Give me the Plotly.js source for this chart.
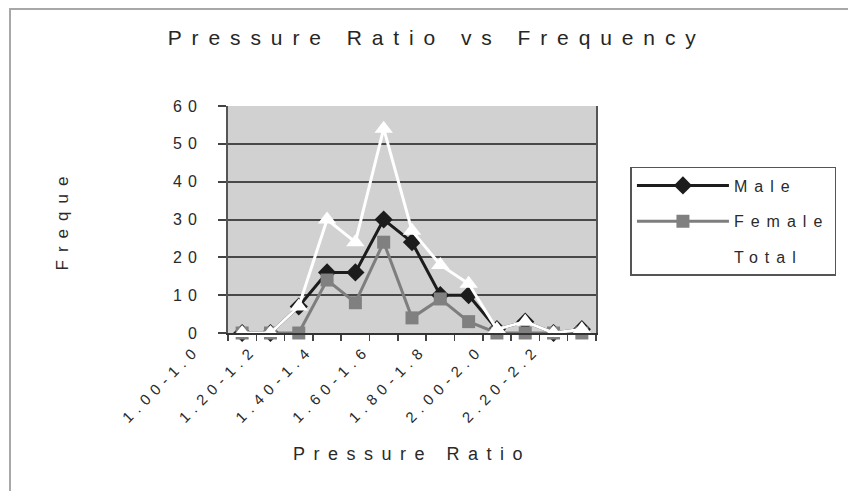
<!DOCTYPE html>
<html><head><meta charset="utf-8">
<script src="https://cdn.plot.ly/plotly-3.0.1.min.js"></script>
<style>
html,body{margin:0;padding:0;background:#fff;}
#wrap{position:relative;width:848px;height:491px;overflow:hidden;}
#chart{width:848px;height:491px;}
#frame{position:absolute;left:9px;top:8px;width:1000px;height:1000px;border-left:2px solid #a8a8a8;border-top:2px solid #a8a8a8;pointer-events:none;}
text.gtitle{letter-spacing:9.9px;}
text.xtitle{letter-spacing:8.5px;}
text.ytitle{letter-spacing:8px;}
text.legendtext{letter-spacing:7px;}
.xtick text{letter-spacing:6px;}
.ytick text{letter-spacing:6px;}
</style></head>
<body>
<div id="wrap"><div id="chart"></div><div id="frame"></div></div>
<script>
var categories = ["1.00-1.09","1.10-1.19","1.20-1.29","1.30-1.39","1.40-1.49","1.50-1.59","1.60-1.69","1.70-1.79","1.80-1.89","1.90-1.99","2.00-2.09","2.10-2.19","2.20-2.29"];
var tickLabels = ["1.00-1.0","","1.20-1.2","","1.40-1.4","","1.60-1.6","","1.80-1.8","","2.00-2.0","","2.20-2.2"];
var male   = [0,0,7,16,16,30,24,10,10,1,3,0,1];
var female = [0,0,0,14,8,24,4,9,3,0,0,0,0];
var total  = [0,0,7,30,24,54,27,18,13,1,3,0,1];

var FONT = "Liberation Sans, Arial, sans-serif";
var traces = [
  {x:categories, y:male, name:"Male", type:"scatter", mode:"lines+markers", cliponaxis:false, legendgroup:"a",
   line:{color:"#1c1c1c", width:3}, marker:{symbol:"diamond", size:14, color:"#1c1c1c"}},
  {x:categories, y:female, name:"Female", type:"scatter", mode:"lines+markers", cliponaxis:false, legendgroup:"b",
   line:{color:"#7e7e7e", width:3}, marker:{symbol:"square", size:13, color:"#808080"}},
  {x:categories, y:total, name:"Total", type:"scatter", mode:"lines+markers", cliponaxis:false, legendgroup:"c",
   line:{color:"#ffffff", width:3}, marker:{symbol:"triangle-up", size:16, color:"#ffffff"}}
];
var layout = {
  width:848, height:491,
  margin:{l:228, r:246, t:106, b:158},
  paper_bgcolor:"#ffffff", plot_bgcolor:"#d1d1d1",
  font:{family:FONT, color:"#2a2a2a"},
  title:{text:"Pressure Ratio vs Frequency", font:{family:FONT, size:21, color:"#262626"},
         x:0.515, xref:"container", xanchor:"center", y:0.923, yref:"container", yanchor:"middle"},
  xaxis:{type:"category", tickvals:categories, ticktext:tickLabels, tickangle:-45, tickson:"boundaries",
         ticks:"outside", ticklen:6, tickcolor:"#444", tickwidth:1.5, showgrid:false, showline:true,
         linecolor:"#333", linewidth:2, range:[-0.5,12.5], tickfont:{family:FONT, size:15, color:"#2a2a2a"},
         ticklabelshift:-46,
         title:{text:"Pressure Ratio", font:{family:FONT, size:18, color:"#2a2a2a"}, standoff:23}},
  yaxis:{range:[0,60], dtick:10, ticks:"outside", ticklen:8, tickcolor:"#444", tickwidth:2,
         showgrid:true, gridcolor:"#484848", gridwidth:2, zeroline:false, showline:true, mirror:true,
         linecolor:"#555", linewidth:2, tickfont:{family:FONT, size:16, color:"#2a2a2a"},
         ticklabelstandoff:12,
         title:{text:"Freque", font:{family:FONT, size:17, color:"#2a2a2a"}, standoff:100}},
  showlegend:true,
  legend:{x:1.0936, y:0.7313, xanchor:"left", yanchor:"top", bordercolor:"#555", borderwidth:1.5,
          bgcolor:"#ffffff", font:{family:FONT, size:16, color:"#2a2a2a"}, traceorder:"grouped",
          tracegroupgap:12, itemwidth:92}
};
Plotly.newPlot("chart", traces, layout, {displayModeBar:false, staticPlot:true});
</script>
</body></html>
